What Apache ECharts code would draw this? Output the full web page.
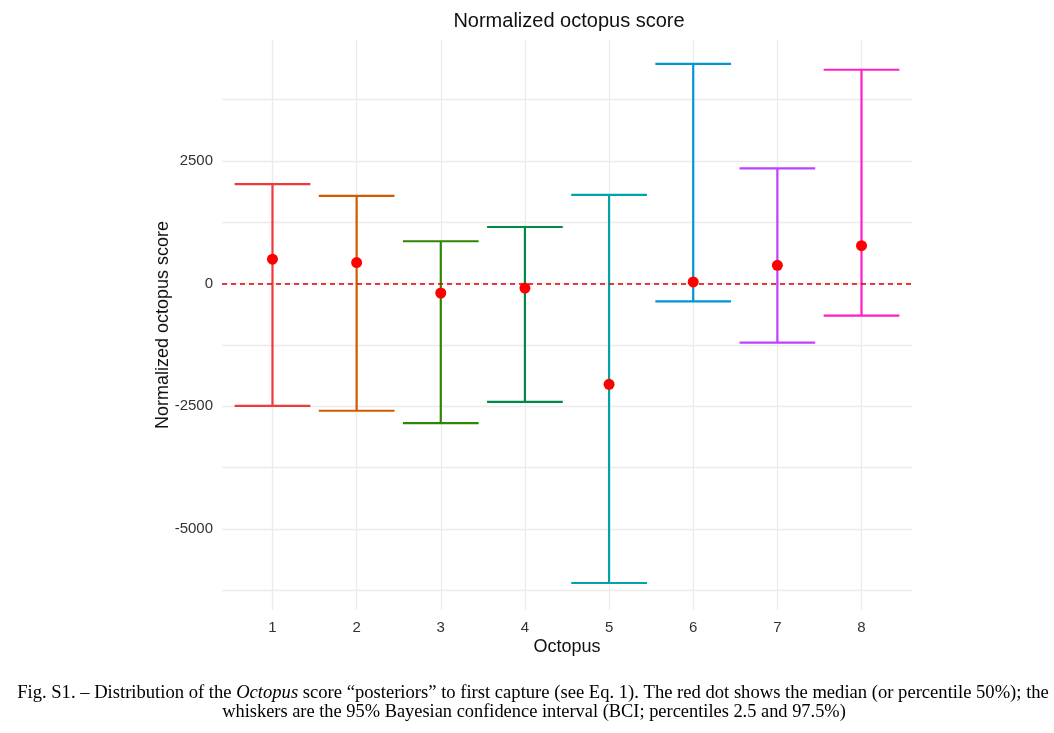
<!DOCTYPE html>
<html><head><meta charset="utf-8">
<script src="https://cdn.jsdelivr.net/npm/echarts@6/dist/echarts.min.js"></script>
<style>html,body{margin:0;padding:0;background:#fff}#c{width:1054px;height:733px}</style>
</head><body><div id="c"></div>
<script>
const octopus = [1, 2, 3, 4, 5, 6, 7, 8];
const lower = [-2490, -2590, -2840, -2410, -6100, -360, -1200, -650];
const median = [500, 430, -190, -90, -2050, 35, 375, 775];
const upper = [2030, 1790, 865, 1155, 1810, 4480, 2350, 4360];
const barColors = ['#F03A3A', '#D05A00', '#2F8600', '#008A48', '#00A3A6', '#0096D6', '#C040FF', '#FF1EC8'];
const yTickLabels = [-5000, -2500, 0, 2500];
const minorGrid = [-6250, -3750, -1250, 1250, 3750];

const chart = echarts.init(document.getElementById('c'));
const ebData = octopus.map((o, i) => [o, lower[i], upper[i], i]);
const gridColor = '#EBEBEB';
chart.setOption({
  animation: false,
  title: {
    text: 'Normalized octopus score', left: 564, top: 6, textAlign: 'center',
    textStyle: {fontFamily: 'Liberation Sans', fontSize: 20, fontWeight: 'normal', color: '#111'}
  },
  grid: {left: 222, right: 142, top: 40, bottom: 123},
  xAxis: {
    type: 'value', min: 0.4, max: 8.6,
    name: 'Octopus', nameLocation: 'middle', nameGap: 28, nameMoveOverlap: false,
    nameTextStyle: {fontFamily: 'Liberation Sans', fontSize: 18, color: '#111'},
    axisLine: {show: false}, axisTick: {show: false}, splitLine: {show: false},
    axisLabel: {customValues: octopus, fontFamily: 'Liberation Sans', fontSize: 15, color: '#333', margin: 10}
  },
  yAxis: {
    type: 'value', min: -6650, max: 4966,
    name: 'Normalized octopus score', nameLocation: 'middle', nameGap: 50, nameMoveOverlap: false,
    nameTextStyle: {fontFamily: 'Liberation Sans', fontSize: 18, color: '#111'},
    axisLine: {show: false}, axisTick: {show: false}, splitLine: {show: false},
    axisLabel: {customValues: yTickLabels, formatter: v => String(v),
      fontFamily: 'Liberation Sans', fontSize: 15, color: '#333', margin: 9}
  },
  series: [
    {
      type: 'line', data: [], silent: true, z: 1,
      markLine: {
        silent: true, symbol: 'none', label: {show: false}, animation: false, z: 1,
        lineStyle: {color: gridColor, width: 1.3, type: 'solid'},
        data: yTickLabels.concat(minorGrid).map(v => ({yAxis: v}))
          .concat(octopus.map(v => ({xAxis: v})))
      }
    },
    {
      type: 'custom', data: ebData, clip: false, z: 3,
      renderItem: function (params, api) {
        const x = api.value(0);
        const lo = api.coord([x, api.value(1)]);
        const hi = api.coord([x, api.value(2)]);
        const halfW = api.size([0.9, 0])[0] / 2;
        const col = barColors[api.value(3)];
        const st = {stroke: col, lineWidth: 2.2};
        return {type: 'group', children: [
          {type: 'line', shape: {x1: lo[0], y1: lo[1], x2: hi[0], y2: hi[1]}, style: st},
          {type: 'line', shape: {x1: hi[0] - halfW, y1: hi[1], x2: hi[0] + halfW, y2: hi[1]}, style: st},
          {type: 'line', shape: {x1: lo[0] - halfW, y1: lo[1], x2: lo[0] + halfW, y2: lo[1]}, style: st}
        ]};
      }
    },
    {
      type: 'line', data: [], silent: true, z: 4,
      markLine: {
        silent: true, symbol: 'none', label: {show: false}, animation: false, z: 4,
        lineStyle: {color: '#E00000', width: 1.6, type: [5, 4]},
        data: [{yAxis: 0}]
      }
    },
    {
      type: 'scatter', z: 5, symbolSize: 11,
      itemStyle: {color: '#FF0000', opacity: 1},
      data: octopus.map((o, i) => [o, median[i]])
    }
  ],
  graphic: [
    {
      type: 'text', x: 533, y: 693,
      style: {
        text: 'Fig. S1. – Distribution of the {i|Octopus} score “posteriors” to first capture (see Eq. 1). The red dot shows the median (or percentile 50%); the',
        font: '18.6px "Liberation Serif"', fill: '#000', align: 'center', verticalAlign: 'middle',
        rich: {i: {fontStyle: 'italic', fontFamily: 'Liberation Serif', fontSize: 18.6}}
      }
    },
    {
      type: 'text', x: 534, y: 712,
      style: {
        text: 'whiskers are the 95% Bayesian confidence interval (BCI; percentiles 2.5 and 97.5%)',
        font: '18.4px "Liberation Serif"', fill: '#000', align: 'center', verticalAlign: 'middle'
      }
    }
  ]
});
</script></body></html>
